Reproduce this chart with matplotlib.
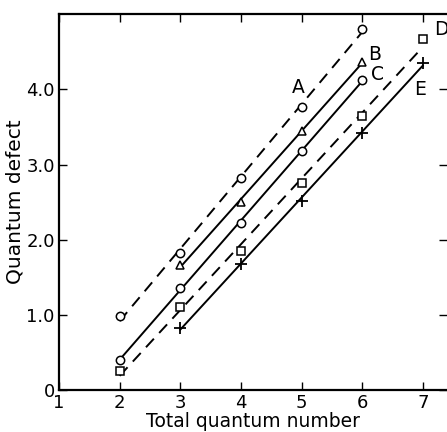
import numpy as np
import matplotlib
matplotlib.use("Agg")
import matplotlib.pyplot as plt

# series
xA = [2, 3, 4, 5, 6]
yA = [0.98, 1.82, 2.82, 3.77, 4.81]
xB = [3, 4, 5, 6]
yB = [1.66, 2.50, 3.45, 4.36]
xC = [2, 3, 4, 5, 6]
yC = [0.40, 1.36, 2.22, 3.18, 4.12]
xD = [2, 3, 4, 5, 6, 7]
yD = [0.25, 1.10, 1.85, 2.75, 3.64, 4.67]
xE = [3, 4, 5, 6, 7]
yE = [0.83, 1.68, 2.52, 3.42, 4.35]

series = [
    ("A", xA, yA, "o", (0, (6, 4)), (4.95, 4.02)),
    ("B", xB, yB, "^", "-", (6.2, 4.47)),
    ("C", xC, yC, "o", "-", (6.25, 4.2)),
    ("D", xD, yD, "s", (0, (6, 4)), (7.3, 4.8)),
    ("E", xE, yE, "+", "-", (6.95, 4.0)),
]

xticks = [1, 2, 3, 4, 5, 6, 7]
yticks = [0, 1, 2, 3, 4]
ylabels = ["0", "1.0", "2.0", "3.0", "4.0"]

fig = plt.figure(figsize=(4.47, 4.32), dpi=100)
ax = fig.add_axes([0.132, 0.097, 0.868, 0.870])

for name, xs, ys, mk, ls, lab in series:
    xs = np.array(xs, dtype=float)
    ys = np.array(ys, dtype=float)
    k, b = np.polyfit(xs, ys, 1)
    ax.plot([xs[0], xs[-1]], [k * xs[0] + b, k * xs[-1] + b], color="black",
            lw=1.4, linestyle=ls)
    if mk == "+":
        ax.plot(xs, ys, linestyle="none", marker=mk, ms=8, mew=1.3, color="black")
    else:
        ax.plot(xs, ys, linestyle="none", marker=mk, ms=6, mew=1.1,
                mfc="white", mec="black")
    ax.text(lab[0], lab[1], name, fontsize=13.5, ha="center", va="center")

ax.set_xlim(1, 7.4)
ax.set_ylim(0, 5.0)
ax.set_xticks(xticks)
ax.set_xticklabels([str(v) for v in xticks], fontsize=13)
ax.set_yticks(yticks)
ax.set_yticklabels(ylabels, fontsize=13)
ax.tick_params(direction="in", length=6, width=1, top=True, right=True, pad=3)
ax.spines["right"].set_visible(False)
for s in ["left", "bottom", "top"]:
    ax.spines[s].set_linewidth(1.6)

ax.set_xlabel("Total quantum number", fontsize=13.5, labelpad=0)
ax.set_ylabel("Quantum defect", fontsize=14.5, labelpad=1)

fig.savefig("out.png", dpi=100)
